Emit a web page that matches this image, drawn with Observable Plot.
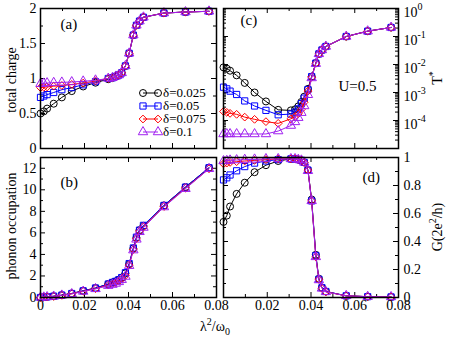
<!DOCTYPE html>
<html>
<head>
<meta charset="utf-8">
<script src="https://cdn.jsdelivr.net/npm/d3@7"></script>
<script src="https://cdn.jsdelivr.net/npm/@observablehq/plot@0.6"></script>
<style>
  body { margin: 0; background: #fff; }
  #chart { position: relative; width: 450px; height: 342px; overflow: hidden;
           font-family: "Liberation Serif", "Tinos", "DejaVu Serif", "Times New Roman", Times, serif; color: #000; }
  .lab { position: absolute; font-size: 14px; white-space: nowrap; line-height: 1; }
  .rot { transform: translate(-50%, -50%) rotate(-90deg); }
  .ctr { transform: translate(-50%, -50%); }
  .leg { position: absolute; display: flex; align-items: center; font-size: 13px; line-height: 12px; height: 12px; }
  sup, sub { font-size: 10px; line-height: 0; }
</style>
</head>
<body>
<div id="chart"></div>
<script>
// ---------------- data ----------------
const lambda = [0, 0.0015, 0.003, 0.006, 0.0097, 0.0142, 0.0194, 0.025, 0.0308, 0.0327, 0.0342,
                0.0356, 0.0369, 0.0386, 0.0403, 0.0422, 0.0436, 0.045, 0.0468, 0.0561, 0.0659, 0.0766];

const deltaLabels = ["δ=0.025", "δ=0.05", "δ=0.075", "δ=0.1"];
const colors = ["#000000", "#0000ff", "#ff0000", "#a020f0"];
const symbols = ["circle", "square", "diamond2", "triangle"];

// (a) total charge
const charge025 = [0.50, 0.53, 0.57, 0.64, 0.73, 0.82, 0.886, 0.94, 0.99, 1.01, 1.03, 1.05, 1.08, 1.18, 1.36, 1.62, 1.76, 1.82, 1.875, 1.935, 1.95, 1.96];
const charge050 = [0.73, 0.75, 0.77, 0.80, 0.84, 0.87, 0.91, 0.955, 1.0, 1.01, 1.03, 1.05, 1.08, 1.18, 1.36, 1.62, 1.76, 1.82, 1.875, 1.935, 1.95, 1.96];
const charge075 = [0.87, 0.875, 0.88, 0.89, 0.90, 0.915, 0.935, 0.965, 1.0, 1.01, 1.03, 1.05, 1.08, 1.18, 1.36, 1.62, 1.76, 1.82, 1.875, 1.935, 1.95, 1.96];
const charge100 = [0.925, 0.93, 0.935, 0.94, 0.945, 0.95, 0.96, 0.975, 1.0, 1.01, 1.03, 1.05, 1.08, 1.18, 1.36, 1.62, 1.76, 1.82, 1.875, 1.935, 1.95, 1.96];

// (b) phonon occupation
const phonon025 = [0, 0.03, 0.06, 0.12, 0.22, 0.38, 0.62, 0.88, 1.25, 1.4, 1.5, 1.65, 1.85, 2.25, 3.1, 4.55, 5.55, 6.25, 6.65, 8.55, 10.25, 12.05];
const phonon050 = [0, 0.03, 0.06, 0.12, 0.22, 0.37, 0.62, 0.88, 1.25, 1.4, 1.5, 1.65, 1.85, 2.3, 3.15, 4.6, 5.6, 6.25, 6.7, 8.55, 10.25, 12.05];
const phonon075 = [0, 0.02, 0.05, 0.1, 0.2, 0.35, 0.58, 0.82, 1.15, 1.28, 1.4, 1.52, 1.72, 2.05, 3.0, 4.45, 5.45, 6.15, 6.55, 8.45, 10.15, 11.95];
const phonon100 = [0, 0.02, 0.05, 0.1, 0.2, 0.33, 0.56, 0.8, 1.1, 1.2, 1.3, 1.45, 1.65, 1.95, 2.95, 4.4, 5.4, 6.1, 6.5, 8.4, 10.1, 11.95];

// (c) Kondo temperature T*
const tstar025 = [7.9e-3, 7.1e-3, 6.0e-3, 4.1e-3, 2.2e-3, 1.0e-3, 4.8e-4, 2.4e-4, 2.3e-4, 2.5e-4, 3.2e-4, 4.6e-4, 7.1e-4, 1.35e-3, 3.7e-3, 1.12e-2, 2.4e-2, 3.3e-2, 4.4e-2, 0.10, 0.155, 0.21];
const tstar050 = [1.55e-3, 1.35e-3, 1.12e-3, 8.5e-4, 5.0e-4, 3.3e-4, 2.3e-4, 1.6e-4, 1.7e-4, 2.0e-4, 2.6e-4, 4.0e-4, 6.3e-4, 1.26e-3, 3.7e-3, 1.12e-2, 2.4e-2, 3.3e-2, 4.4e-2, 0.10, 0.155, 0.21];
const tstar075 = [2.1e-4, 1.95e-4, 1.8e-4, 1.66e-4, 1.32e-4, 1.1e-4, 9.1e-5, 7.9e-5, 1.15e-4, 1.38e-4, 1.74e-4, 2.5e-4, 4.5e-4, 1.12e-3, 3.5e-3, 1.1e-2, 2.4e-2, 3.3e-2, 4.4e-2, 0.10, 0.155, 0.21];
const tstar100 = [3.3e-5, 3.3e-5, 3.3e-5, 3.3e-5, 3.3e-5, 3.3e-5, 3.3e-5, 4.2e-5, 6.6e-5, 8.9e-5, 1.26e-4, 1.9e-4, 3.3e-4, 8.3e-4, 3.3e-3, 1.07e-2, 2.4e-2, 3.3e-2, 4.4e-2, 0.10, 0.155, 0.21];

// (d) conductance G
const cond025 = [0.54, 0.585, 0.65, 0.74, 0.82, 0.895, 0.945, 0.975, 0.99, 0.99, 0.985, 0.98, 0.965, 0.91, 0.70, 0.305, 0.134, 0.07, 0.043, 0.012, 0.006, 0.004];
const cond050 = [0.84, 0.855, 0.875, 0.905, 0.935, 0.96, 0.975, 0.985, 0.99, 0.99, 0.985, 0.98, 0.965, 0.91, 0.69, 0.30, 0.13, 0.07, 0.043, 0.012, 0.006, 0.004];
const cond075 = [0.955, 0.96, 0.965, 0.97, 0.975, 0.98, 0.985, 0.99, 0.99, 0.99, 0.985, 0.98, 0.965, 0.91, 0.69, 0.29, 0.13, 0.065, 0.04, 0.012, 0.006, 0.004];
const cond100 = [0.975, 0.977, 0.98, 0.982, 0.985, 0.987, 0.99, 0.99, 0.99, 0.99, 0.985, 0.98, 0.965, 0.905, 0.69, 0.29, 0.125, 0.065, 0.04, 0.012, 0.006, 0.004];

// ticks
const xMajor = [0, 0.02, 0.04, 0.06, 0.08];
const xMinor = [0.01, 0.03, 0.05, 0.07];
const xLabelsLeft = [0, 0.02, 0.04, 0.06, 0.08];
const xLabelsRight = [0.02, 0.04, 0.06, 0.08];
const chargeTicks = [0, 0.5, 1, 1.5, 2];
const chargeMinor = [0.25, 0.75, 1.25, 1.75];
const phononTicks = [0, 2, 4, 6, 8, 10, 12];
const phononMinor = [1, 3, 5, 7, 9, 11];
const tTicks = [1, 1e-1, 1e-2, 1e-3, 1e-4, 1e-5];
const tLabels = [1, 1e-1, 1e-2, 1e-3, 1e-4];
const tMinor = [1e-5, 1e-4, 1e-3, 1e-2, 1e-1].flatMap(b => [2, 3, 4, 5, 6, 7, 8, 9].map(k => k * b));
const gTicks = [0, 0.2, 0.4, 0.6, 0.8, 1];
const gMinor = [0.1, 0.3, 0.5, 0.7, 0.9];

// ---------------- drawing ----------------
const FONT = '"Liberation Serif", "Tinos", "DejaVu Serif", "Times New Roman", Times, serif';
const chart = document.getElementById("chart");

function panel(o) {
  const fw = o.width - o.ml - o.mr, fh = o.height - o.mt - o.mb;
  const MJ = 5, MN = 3;
  const ty = (vals, len) => [
    Plot.tickY(vals, {y: d => d, insetRight: fw - len, stroke: "#000"}),
    Plot.tickY(vals, {y: d => d, insetLeft: fw - len, stroke: "#000"})
  ];
  const tx = (vals, len) => [
    Plot.tickX(vals, {x: d => d, insetBottom: fh - len, stroke: "#000"}),
    Plot.tickX(vals, {x: d => d, insetTop: fh - len, stroke: "#000"})
  ];
  const marks = [
    ...ty(o.yMajor, MJ), ...ty(o.yMinor, MN), ...tx(xMajor, MJ), ...tx(xMinor, MN)
  ];
  o.values.forEach((vals, i) => {
    const rows = lambda.map((x, j) => ({x, y: vals[j]}));
    marks.push(Plot.line(rows, {x: "x", y: "y", stroke: colors[i], strokeWidth: 1}));
    marks.push(Plot.dot(rows, {x: "x", y: "y", stroke: colors[i], symbol: symbols[i], r: 3.5, fill: "none", strokeWidth: 1}));
  });
  marks.push(Plot.axisY(o.yLabels, {anchor: o.yAnchor, tickSize: 0, tickPadding: o.yPad, label: null,
    tickFormat: o.yFormat || (d => String(d)), fontSize: 14, fontFamily: FONT}));
  if (o.xLabels) marks.push(Plot.axisX(o.xLabels, {anchor: "bottom", tickSize: 0, tickPadding: 3, label: null,
    tickFormat: d => String(d), fontSize: 14, fontFamily: FONT}));
  marks.push(Plot.frame({stroke: "#000", strokeWidth: 1.5}));
  (o.texts || []).forEach(t => marks.push(Plot.text([t.text], {frameAnchor: "top-left", textAnchor: "start",
    lineAnchor: "middle", dx: t.dx, dy: t.dy, fontSize: 15, fontFamily: FONT})));
  const p = Plot.plot({
    width: o.width, height: o.height,
    marginLeft: o.ml, marginRight: o.mr, marginTop: o.mt, marginBottom: o.mb,
    x: {domain: [0, 0.08], label: null, axis: o.xLabels ? undefined : null},
    y: {type: o.yType || "linear", domain: o.yDomain, label: null},
    style: {fontFamily: FONT, fontSize: "14px", background: "none", overflow: "visible", color: "#000"},
    marks
  });
  p.style.position = "absolute";
  p.style.left = o.left + "px";
  p.style.top = o.top + "px";
  chart.appendChild(p);
  return p;
}

panel({left: 0, top: 0, width: 225, height: 150, ml: 40, mr: 9, mt: 8, mb: 2,
  yDomain: [0, 2], yMajor: chargeTicks, yMinor: chargeMinor, yLabels: chargeTicks, yAnchor: "left", yPad: 4,
  values: [charge025, charge050, charge075, charge100],
  texts: [{text: "(a)", dx: 20, dy: 16}]});

panel({left: 0, top: 150, width: 225, height: 192, ml: 40, mr: 9, mt: 7, mb: 45,
  yDomain: [0, 13], yMajor: phononTicks, yMinor: phononMinor, yLabels: phononTicks, yAnchor: "left", yPad: 4,
  values: [phonon025, phonon050, phonon075, phonon100], xLabels: xLabelsLeft,
  texts: [{text: "(b)", dx: 20, dy: 25}]});

const pc = panel({left: 216, top: 0, width: 234, height: 150, ml: 7, mr: 52, mt: 8, mb: 2,
  yType: "log", yDomain: [1e-5, 1], yMajor: tTicks, yMinor: tMinor, yLabels: tLabels, yAnchor: "right", yPad: 5,
  yFormat: d => "10^" + Math.round(Math.log10(d)),
  values: [tstar025, tstar050, tstar075, tstar100],
  texts: [{text: "(c)", dx: 17, dy: 12}, {text: "U=0.5", dx: 115, dy: 78}]});

panel({left: 216, top: 150, width: 234, height: 192, ml: 7, mr: 52, mt: 7, mb: 45,
  yDomain: [0, 1], yMajor: gTicks, yMinor: gMinor, yLabels: gTicks, yAnchor: "right", yPad: 5,
  values: [cond025, cond050, cond075, cond100], xLabels: xLabelsRight,
  texts: [{text: "(d)", dx: 139, dy: 20}]});

// superscript exponents on the log axis labels
d3.select(pc).selectAll("text").each(function () {
  const m = this.textContent.match(/^10\^(-?\d+)$/);
  if (!m) return;
  const el = d3.select(this);
  el.text(null);
  el.append("tspan").attr("dy", "4").text("10");
  el.append("tspan").attr("dy", "-7").attr("font-size", "10px").text(m[1]);
});

// axis titles
function label(html, x, y, cls) {
  const d = document.createElement("div");
  d.className = "lab " + cls;
  d.style.left = x + "px";
  d.style.top = y + "px";
  d.innerHTML = html;
  chart.appendChild(d);
}
label("total charge", 12, 80, "rot");
label("phonon occupation", 12, 226, "rot");
label("λ<sup>2</sup>/ω<sub>0</sub>", 215, 327, "ctr");
label("T<sup>*</sup>", 438, 78, "rot");
label("G(2e<sup>2</sup>/h)", 438, 227, "rot");

// legend in panel (a)
const symTypes = [d3.symbolCircle, d3.symbolSquare, d3.symbolDiamond2, d3.symbolTriangle];
deltaLabels.forEach((txt, i) => {
  const row = document.createElement("div");
  row.className = "leg";
  row.style.left = "138px";
  row.style.top = (93 + i * 13 - 6) + "px";
  const svg = d3.create("svg").attr("width", 25).attr("height", 12).style("overflow", "visible");
  svg.append("line").attr("x1", 5).attr("x2", 20).attr("y1", 6).attr("y2", 6).attr("stroke", colors[i]);
  [5, 20].forEach(cx => svg.append("path")
    .attr("d", d3.symbol(symTypes[i], Math.PI * 3.5 * 3.5)())
    .attr("transform", `translate(${cx},6)`)
    .attr("fill", "none").attr("stroke", colors[i]));
  row.appendChild(svg.node());
  const span = document.createElement("span");
  span.textContent = txt;
  row.appendChild(span);
  chart.appendChild(row);
});
</script>
</body>
</html>
